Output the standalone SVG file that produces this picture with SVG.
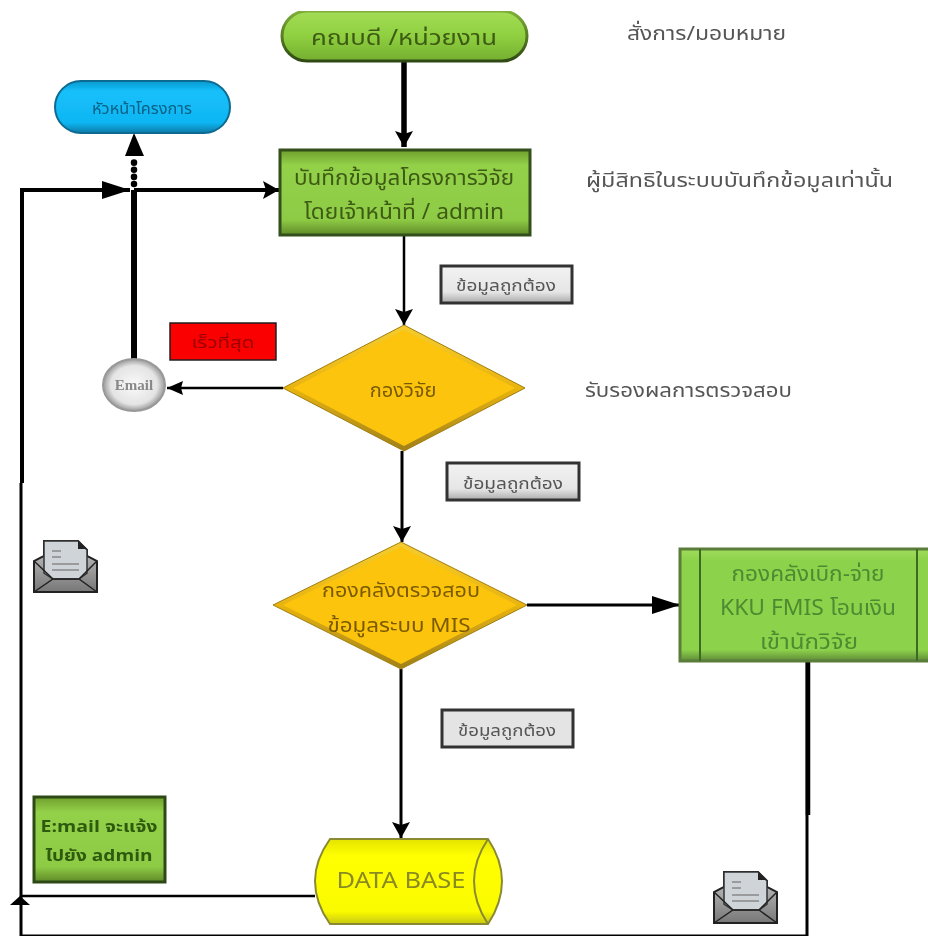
<svg xmlns="http://www.w3.org/2000/svg" width="928" height="937" viewBox="0 0 928 937">
<style>
text{font-family:"Noto Sans Thai","Noto Sans","DejaVu Sans","Liberation Sans",sans-serif;text-anchor:middle}
.dark{fill:#3d5a12;font-size:21px}.amber{fill:#7a5a00;font-size:20px}.pay{fill:#4e8a30;font-size:21px}.note{fill:#555;font-size:20px;text-anchor:start}.lab{fill:#555;font-size:15px}
.not{font-size:16px;font-weight:bold;fill:#2e5a10}
.c{fill:none;stroke:#000}
.grn{fill:url(#gr);stroke:#33501a;stroke-width:3}
.btn{fill:url(#bt);stroke:#333;stroke-width:3}
</style>
<defs>
<filter id="soft" x="0" y="0" width="100%" height="100%" filterUnits="objectBoundingBox"><feGaussianBlur stdDeviation="0.55"/></filter>
<linearGradient id="gr" x1="0" y1="0" x2="0" y2="1"><stop offset="0" stop-color="#6f9f2c"/><stop offset=".18" stop-color="#93d14a"/><stop offset=".82" stop-color="#8ecb45"/><stop offset="1" stop-color="#5f8a28"/></linearGradient>
<linearGradient id="pl" x1="0" y1="0" x2="0" y2="1"><stop offset="0" stop-color="#a4dc55"/><stop offset=".5" stop-color="#8fd040"/><stop offset="1" stop-color="#74ae30"/></linearGradient>
<linearGradient id="ps" x1="0" y1="0" x2="0" y2="1"><stop offset="0" stop-color="#7fb03a"/><stop offset="1" stop-color="#2f4a12"/></linearGradient>
<linearGradient id="py" x1="0" y1="0" x2="0" y2="1"><stop offset="0" stop-color="#a0dc5c"/><stop offset=".1" stop-color="#8dd24c"/><stop offset=".9" stop-color="#8dd24c"/><stop offset="1" stop-color="#5f8a38"/></linearGradient>
<linearGradient id="bl" x1="0" y1="0" x2="0" y2="1"><stop offset="0" stop-color="#0b9ad0"/><stop offset=".2" stop-color="#14c0fb"/><stop offset=".8" stop-color="#10b6f2"/><stop offset="1" stop-color="#0a7aa8"/></linearGradient>
<linearGradient id="bt" x1="0" y1="0" x2="0" y2="1"><stop offset="0" stop-color="#f2f2f2"/><stop offset=".7" stop-color="#e6e6e6"/><stop offset="1" stop-color="#aaa"/></linearGradient>
<linearGradient id="am" x1="0" y1="0" x2="0" y2="1"><stop offset="0" stop-color="#f5cc30"/><stop offset=".5" stop-color="#e8b410"/><stop offset="1" stop-color="#a08018"/></linearGradient>
<linearGradient id="yl" x1="0" y1="0" x2="0" y2="1"><stop offset="0" stop-color="#e4e400"/><stop offset=".2" stop-color="#ffff00"/><stop offset=".85" stop-color="#fbfb00"/><stop offset="1" stop-color="#c8c810"/></linearGradient>
<radialGradient id="gy"><stop offset="0" stop-color="#fafafa"/><stop offset=".75" stop-color="#e4e4e4"/><stop offset="1" stop-color="#999"/></radialGradient>
<linearGradient id="env" x1="0" y1="0" x2="0" y2="1"><stop offset="0" stop-color="#ccc"/><stop offset="1" stop-color="#777"/></linearGradient>
<marker id="a" markerUnits="userSpaceOnUse" markerWidth="30" markerHeight="20" refX="28" refY="9" orient="auto"><path d="M0 0L28 9L0 18Z"/></marker>
<marker id="b" markerUnits="userSpaceOnUse" markerWidth="18" markerHeight="20" refX="16" refY="9" orient="auto"><path d="M0 0L16 9L0 18L3 9Z"/></marker>
<marker id="d" markerUnits="userSpaceOnUse" markerWidth="18" markerHeight="16" refX="16" refY="7" orient="auto"><path d="M0 0L16 7L0 14L2 7Z"/></marker>
<g id="envelope">
<path d="M11 1H45L54 10V16L64 21V52H1V21L11 16Z" fill="url(#env)" stroke="#222" stroke-width="2"/>
<path d="M11 16V33L20 39H46L54 33V10L45 1H11Z" fill="#cfd4d8" stroke="#333" stroke-width="1.5"/>
<path d="M45 1V9H54Z" fill="#222"/>
<path d="M19 11H28M19 17H28M19 24H46M19 30H46" stroke="#888" stroke-width="1.5" fill="none"/>
<path d="M1 52L20 39H46L64 52M1 21L20 39M64 21L46 39" stroke="#222" stroke-width="1.5" fill="none"/>
</g>
</defs>
<rect width="928" height="937" fill="#fff"/>
<g filter="url(#soft)">
<g id="connectors">
<path class="c" stroke-width="5.5" d="M404 60V147" marker-end="url(#b)"/>
<path class="c" stroke-width="2.5" d="M404 235V325" marker-end="url(#b)"/>
<path class="c" stroke-width="3" d="M402 451V542" marker-end="url(#b)"/>
<path class="c" stroke-width="3" d="M401 669V838" marker-end="url(#b)"/>
<path class="c" stroke-width="2.5" d="M283 388H167" marker-end="url(#d)"/>
<path class="c" stroke-width="3" d="M527 605H680" marker-end="url(#a)"/>
<path class="c" stroke-width="6" d="M134 359V190"/>
<path class="c" stroke-width="6.5" stroke-dasharray="0.1 7" stroke-linecap="round" d="M134 184V160"/>
<path d="M134 133L125 156H144Z"/>
<path class="c" stroke-width="4" d="M22 483V190H130" marker-end="url(#a)"/>
<path class="c" stroke-width="4" d="M134 190H279" marker-end="url(#b)"/>
<path class="c" stroke-width="3" d="M21 483V936H807V661"/>
<path class="c" stroke-width="4.5" d="M808 661V815"/>
<path class="c" stroke-width="2.5" d="M315 896H20"/>
<path d="M20 896L10 905H30Z"/>
</g>
<g id="n-faculty"><rect x="282" y="11" width="245" height="50" rx="25" fill="url(#pl)" stroke="url(#ps)" stroke-width="3"/><text class="dark" x="404" y="45" textLength="186" lengthAdjust="spacingAndGlyphs">คณบดี /หน่วยงาน</text></g>
<g id="n-head"><rect x="55" y="81" width="175" height="52" rx="26" fill="url(#bl)" stroke="#0a6a90" stroke-width="2"/><text x="142" y="114" font-size="15" fill="#0a5f85" textLength="100" lengthAdjust="spacingAndGlyphs">หัวหน้าโครงการ</text></g>
<g id="n-record"><rect class="grn" x="280" y="150" width="250" height="85"/><text class="dark" x="404" y="185" textLength="220" lengthAdjust="spacingAndGlyphs">บันทึกข้อมูลโครงการวิจัย</text><text class="dark" x="404" y="219" textLength="200" lengthAdjust="spacingAndGlyphs">โดยเจ้าหน้าที่ / admin</text></g>
<g id="n-ok1"><rect class="btn" x="441" y="266" width="131" height="37"/><text class="lab" x="506" y="291" textLength="100" lengthAdjust="spacingAndGlyphs">ข้อมูลถูกต้อง</text></g>
<g id="n-research"><path d="M404 325L525 388L404 451L283 388Z" fill="url(#am)" stroke="#a07e10"/><path d="M404 330L515 388L404 446L293 388Z" fill="#fcc40c"/><text class="amber" x="403" y="397">กองวิจัย</text></g>
<g id="n-urgent"><rect x="170" y="323" width="106" height="37" fill="#fb0000" stroke="#222" stroke-width="1.5"/><text x="223" y="348" font-size="15" fill="#900" textLength="63" lengthAdjust="spacingAndGlyphs">เร็วที่สุด</text></g>
<g id="n-email"><ellipse cx="134" cy="385" rx="31" ry="26" fill="url(#gy)" stroke="#999" stroke-width="2"/><text x="134" y="390" style="font-family:'Liberation Serif',serif;font-size:15px;font-weight:bold" fill="#888">Email</text></g>
<g id="n-ok2"><rect class="btn" x="447" y="463" width="132" height="37"/><text class="lab" x="513" y="489" textLength="100" lengthAdjust="spacingAndGlyphs">ข้อมูลถูกต้อง</text></g>
<g id="n-finance"><path d="M401 542L527 605L401 669L273 605Z" fill="url(#am)" stroke="#a07e10"/><path d="M401 547L517 605L401 664L283 605Z" fill="#fcc40c"/><text class="amber" x="401" y="597" textLength="158" lengthAdjust="spacingAndGlyphs">กองคลังตรวจสอบ</text><text class="amber" x="399" y="632" textLength="143" lengthAdjust="spacingAndGlyphs">ข้อมูลระบบ MIS</text></g>
<g id="n-pay"><rect x="680" y="549" width="250" height="112" fill="url(#py)" stroke="#5a7d3a" stroke-width="3"/><path d="M700 549V661M917 549V661" stroke="#3a6a20" stroke-width="2"/><text class="pay" x="808" y="581" textLength="153" lengthAdjust="spacingAndGlyphs">กองคลังเบิก-จ่าย</text><text class="pay" x="808" y="615" textLength="176" lengthAdjust="spacingAndGlyphs">KKU FMIS โอนเงิน</text><text class="pay" x="809" y="649" textLength="98" lengthAdjust="spacingAndGlyphs">เข้านักวิจัย</text></g>
<g id="n-ok3"><rect x="442" y="710" width="131" height="37" fill="#e4e4e4" stroke="#333" stroke-width="3"/><text class="lab" x="507" y="736" textLength="98" lengthAdjust="spacingAndGlyphs">ข้อมูลถูกต้อง</text></g>
<g id="n-db"><path d="M330 839H488Q502 860 502 881Q502 903 488 924H330Q315 903 315 881Q315 860 330 839Z" fill="url(#yl)" stroke="#8a8a30" stroke-width="2"/><path d="M488 839Q474 860 474 881Q474 903 488 924" fill="none" stroke="#8a8a30" stroke-width="2"/><text x="401" y="888" font-size="22" fill="#8a8a20" textLength="129" lengthAdjust="spacingAndGlyphs">DATA BASE</text></g>
<g id="n-notice"><rect x="34" y="797" width="131" height="85" fill="url(#gr)" stroke="#2e4a18" stroke-width="3"/><text class="not" x="99" y="832" textLength="117" lengthAdjust="spacingAndGlyphs">E:mail จะแจ้ง</text><text class="not" x="99" y="861" textLength="107" lengthAdjust="spacingAndGlyphs">ไปยัง admin</text></g>
<use id="n-env1" href="#envelope" x="33" y="540"/>
<use id="n-env2" href="#envelope" x="713" y="871"/>
<g id="notes">
<text class="note" x="627" y="40" textLength="159" lengthAdjust="spacingAndGlyphs">สั่งการ/มอบหมาย</text>
<text class="note" x="586" y="187" textLength="307" lengthAdjust="spacingAndGlyphs">ผู้มีสิทธิในระบบบันทึกข้อมูลเท่านั้น</text>
<text class="note" x="585" y="397" textLength="207" lengthAdjust="spacingAndGlyphs">รับรองผลการตรวจสอบ</text>
</g>
</g>
</svg>
